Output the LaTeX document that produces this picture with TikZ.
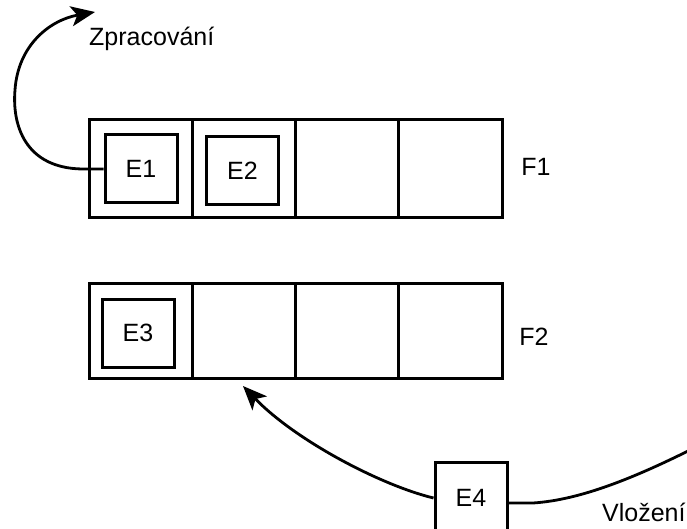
\documentclass[tikz,border=0pt]{standalone}
\usepackage{fontspec}
\setmainfont{Liberation Sans}
\usetikzlibrary{arrows.meta}

\begin{document}
\begin{tikzpicture}[x=1pt,y=-1pt,
    cell/.style={draw,line width=3pt,minimum width=103.25pt,inner sep=0pt},
    item/.style={draw,line width=3pt,minimum width=72pt,minimum height=68pt,inner sep=0pt,font=\fontsize{25}{30}\selectfont},
    lbl/.style={inner sep=0pt,font=\fontsize{25}{30}\selectfont},
    flow/.style={line width=2.8pt,-{Stealth[length=24pt,width=20pt,inset=6pt]}}]
    \useasboundingbox (0,0) rectangle (687,529);
    \foreach \i in {1,...,4} {
        \node[cell,minimum height=98pt] (fa\i) at (37.4+103.25*\i,169) {};
        \node[cell,minimum height=95pt] (fb\i) at (37.4+103.25*\i,330.5) {};
    }
    \node[item] (E1) at (141,169) {E1};
    \node[item] (E2) at (242.5,171) {E2};
    \node[item] (E3) at (138,333) {E3};
    \node[item,minimum height=72pt] (E4) at (471,498) {E4};
    \node[lbl] (F1) at (536,167) {F1};
    \node[lbl] (F2) at (534,337) {F2};
    \node[lbl,anchor=base west] (zp) at (89,46) {Zpracování};
    \node[lbl,anchor=base west] (vl) at (602,521) {Vložení};
    \coordinate (out) at (95,12);
    \coordinate (in) at (243,386);
    \coordinate (src) at (700,445);
    \draw[flow] (E1.west) -- (82,169) .. controls (25,168) and (12,125) .. (15,90)
        .. controls (18,45) and (50,20) .. (out);
    \draw[flow] (E4.west) .. controls (380,485) and (295,440) .. (in);
    \draw[line width=2.8pt] ([yshift=-5pt]E4.east) -- (533,503) .. controls (580,500) and (635,478) .. (src);
\end{tikzpicture}
\end{document}
